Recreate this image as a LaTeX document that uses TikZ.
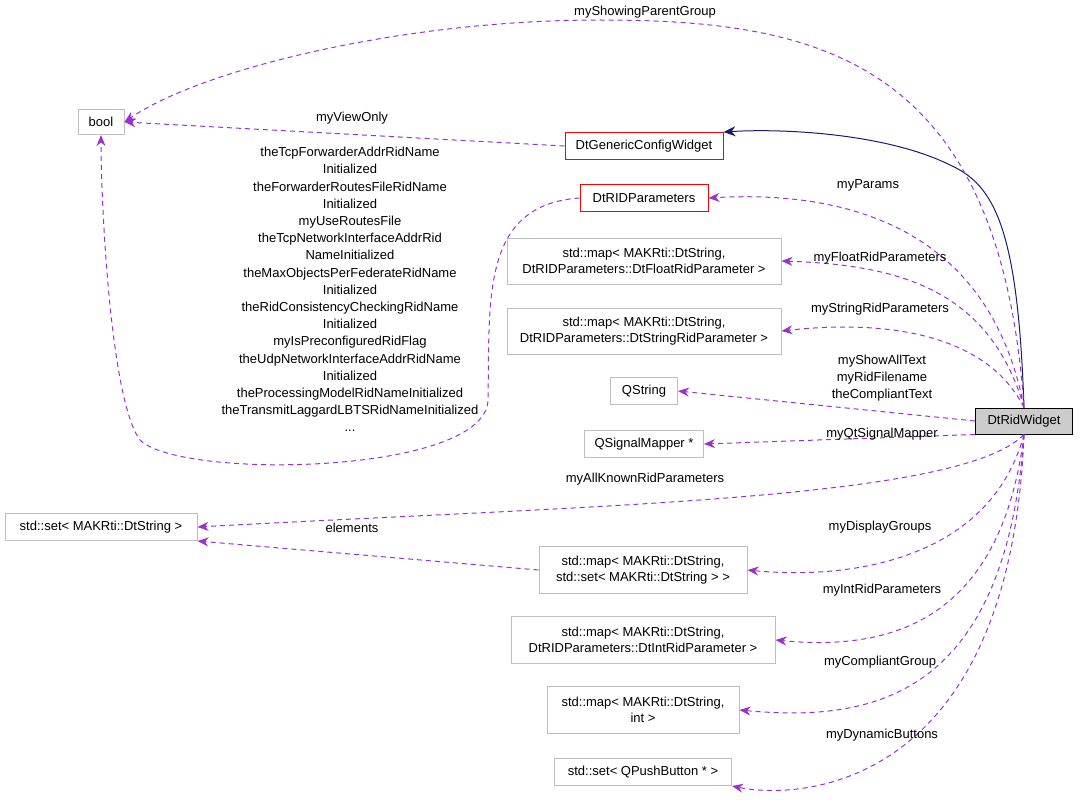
\documentclass[tikz,border=0pt]{standalone}
\usepackage{fontspec}
\setmainfont{Liberation Sans}
\usetikzlibrary{arrows.meta}
\definecolor{memb}{RGB}{153,50,204}
\definecolor{inh}{RGB}{25,25,112}
\definecolor{boxgray}{RGB}{191,191,191}
\tikzset{
  cls/.style={draw=boxgray,fill=white,inner sep=4pt,align=center,line width=1pt,font=\fontsize{13}{16}\selectfont},
  redcls/.style={cls,draw=red},
  mainc/.style={cls,draw=black,fill=boxgray!80},
  memb/.style={draw=memb,line width=1pt,dash pattern=on 5pt off 4pt,-{Stealth[length=11pt,width=9pt]}},
  inh/.style={draw=inh,line width=1pt,-{Stealth[length=12pt,width=10pt]}},
  lbl/.style={inner sep=0pt,align=center,font=\fontsize{13}{16}\selectfont}
}
\begin{document}
\begin{tikzpicture}[x=1pt,y=-1pt]
\useasboundingbox (0,0) rectangle (1080,800);

% classes
\node[cls,minimum width=46,minimum height=25] (bool) at (101,122) {bool};
\node[redcls,minimum width=158,minimum height=27] (gen) at (644,146) {DtGenericConfigWidget};
\node[redcls,minimum width=128,minimum height=27] (rid) at (644,198) {DtRIDParameters};
\node[cls,minimum width=274,minimum height=46] (mflt) at (644,261) {std::map< MAKRti::DtString,\\ DtRIDParameters::DtFloatRidParameter >};
\node[cls,minimum width=274,minimum height=46] (mstr) at (644,331) {std::map< MAKRti::DtString,\\ DtRIDParameters::DtStringRidParameter >};
\node[cls,minimum width=67,minimum height=27] (qstr) at (644,391) {QString};
\node[cls,minimum width=119,minimum height=27] (qsig) at (644,444) {QSignalMapper *};
\node[mainc,minimum width=97,minimum height=26] (w) at (1024,421) {DtRidWidget};
\node[cls,minimum width=192,minimum height=27] (sset) at (101,527) {std::set< MAKRti::DtString >};
\node[cls,minimum width=208,minimum height=47] (mset) at (643,570) {std::map< MAKRti::DtString,\\ std::set< MAKRti::DtString > >};
\node[cls,minimum width=264,minimum height=47] (mint) at (643,640) {std::map< MAKRti::DtString,\\ DtRIDParameters::DtIntRidParameter >};
\node[cls,minimum width=192,minimum height=47] (mi) at (643,710) {std::map< MAKRti::DtString,\\ int >};
\node[cls,minimum width=177,minimum height=27] (spb) at (643,772) {std::set< QPushButton * >};

% inheritance
\draw[inh] (w.north) .. controls (1018,230) and (995,185) .. (950,165) .. controls (890,135) and (790,128) .. (gen.north east);

% members
\draw[memb] (w.north) .. controls (1000,60) and (820,20) .. (600,20) .. controls (400,20) and (200,70) .. (bool.east);
\draw[memb] (gen.west) -- (bool.east);
\draw[memb] (w.north) .. controls (990,230) and (850,190) .. (rid.east);
\draw[memb] (w.north) .. controls (990,290) and (900,265) .. (mflt.east);
\draw[memb] (w.north) .. controls (990,340) and (900,318) .. (mstr.east);
\draw[memb] (w.west) -- (qstr.east);
\draw[memb] (w.south west) -- (qsig.east);
\draw[memb] (w.south) .. controls (960,500) and (600,505) .. (sset.east);
\draw[memb] (mset.west) -- (sset.south east);
\draw[memb] (w.south) .. controls (990,560) and (850,580) .. (mset.east);
\draw[memb] (w.south) .. controls (1000,630) and (880,650) .. (mint.east);
\draw[memb] (w.south) .. controls (1005,700) and (870,722) .. (mi.east);
\draw[memb] (w.south) .. controls (1010,790) and (800,800) .. (spb.south east);
\draw[memb] (rid.west) .. controls (480,205) and (490,300) .. (488,400) .. controls (486,475) and (180,480) .. (140,440) .. controls (110,400) and (101,200) .. (bool.south);

% labels
\node[lbl] (l1) at (645,12) {myShowingParentGroup};
\node[lbl] (l2) at (352,118) {myViewOnly};
\node[lbl] (l3) at (868,185) {myParams};
\node[lbl] (l4) at (880,258) {myFloatRidParameters};
\node[lbl] (l5) at (880,309) {myStringRidParameters};
\node[lbl,font=\fontsize{13}{17}\selectfont] (l6) at (882,378) {myShowAllText\\ myRidFilename\\ theCompliantText};
\node[lbl] (l7) at (882,434) {myQtSignalMapper};
\node[lbl] (l8) at (645,479) {myAllKnownRidParameters};
\node[lbl] (l9) at (352,528) {elements};
\node[lbl] (l10) at (880,527) {myDisplayGroups};
\node[lbl] (l11) at (882,590) {myIntRidParameters};
\node[lbl] (l12) at (880,662) {myCompliantGroup};
\node[lbl] (l13) at (882,735) {myDynamicButtons};
\node[lbl,font=\fontsize{13}{17.2}\selectfont,anchor=north] (l14) at (350,147) {theTcpForwarderAddrRidName\\ Initialized\\ theForwarderRoutesFileRidName\\ Initialized\\ myUseRoutesFile\\ theTcpNetworkInterfaceAddrRid\\ NameInitialized\\ theMaxObjectsPerFederateRidName\\ Initialized\\ theRidConsistencyCheckingRidName\\ Initialized\\ myIsPreconfiguredRidFlag\\ theUdpNetworkInterfaceAddrRidName\\ Initialized\\ theProcessingModelRidNameInitialized\\ theTransmitLaggardLBTSRidNameInitialized\\ ...};
\end{tikzpicture}
\end{document}
